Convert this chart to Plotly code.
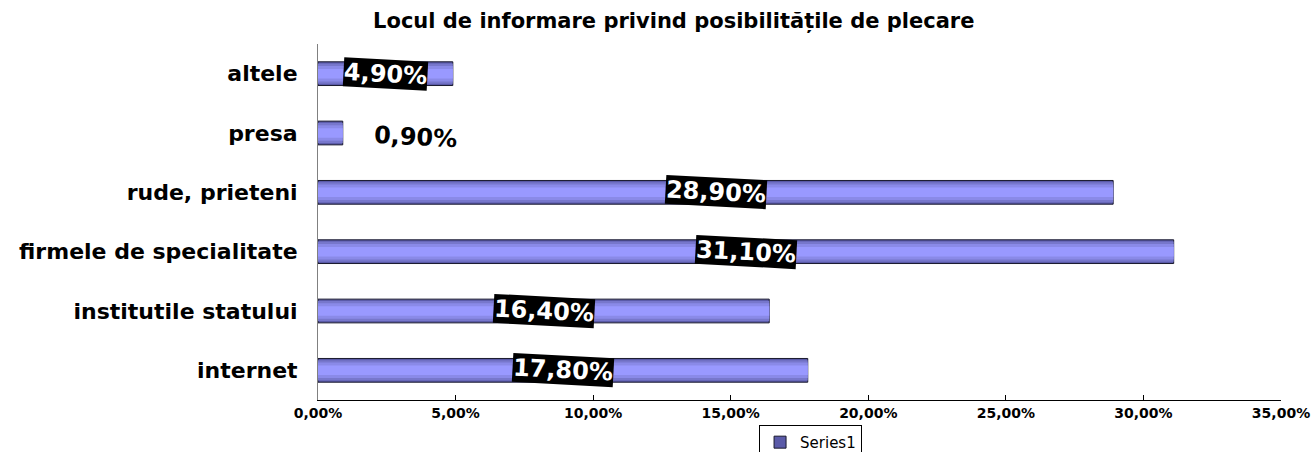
import plotly.graph_objects as go

title = "Locul de informare privind posibilitățile de plecare"
categories = ["internet", "institutile statului", "firmele de specialitate",
              "rude, prieteni", "presa", "altele"]
values = [17.8, 16.4, 31.1, 28.9, 0.9, 4.9]
labels = ["17,80%", "16,40%", "31,10%", "28,90%", "0,90%", "4,90%"]
series_name = "Series1"
x_ticks = [0, 5, 10, 15, 20, 25, 30, 35]
x_tick_labels = ["0,00%", "5,00%", "10,00%", "15,00%", "20,00%", "25,00%", "30,00%", "35,00%"]

FONT = "DejaVu Sans"

fig = go.Figure()
# gradient-like layered bars
layers = [(0.40, "#5a5aa8", True), (0.34, "#7777cc", False),
          (0.26, "#8a8ae8", False), (0.16, "#9999ff", False)]
for w, col, base in layers:
    fig.add_trace(go.Bar(
        y=categories, x=values, orientation="h", width=w,
        marker=dict(color=col, line=dict(color="#1a1a2e" if base else col, width=1 if base else 0)),
        name=series_name, showlegend=base, hoverinfo="skip" if not base else None,
    ))

annotations = []
for cat, v, lab in zip(categories, values, labels):
    if v < 2:
        annotations.append(dict(x=v, y=cat, xref="x", yref="y", text=lab, showarrow=False,
                                xshift=73, yshift=-4, textangle=3,
                                font=dict(family=FONT, size=24, color="black", weight="bold")))
    else:
        annotations.append(dict(x=v / 2, y=cat, xref="x", yref="y", text=lab, showarrow=False,
                                textangle=3, bgcolor="black", borderpad=0,
                                font=dict(family=FONT, size=24, color="white", weight="bold")))

fig.update_layout(
    width=1316, height=452,
    margin=dict(l=318, r=35, t=44, b=52, autoexpand=False),
    paper_bgcolor="white", plot_bgcolor="white",
    barmode="overlay",
    title=dict(text=title, x=0.512, xanchor="center", y=0.954, yanchor="middle",
               font=dict(family=FONT, size=21, color="black", weight="bold")),
    xaxis=dict(range=[0, 35], tickvals=x_ticks, ticktext=x_tick_labels, automargin=False,
               showgrid=False, zeroline=False, showline=True, linecolor="black", linewidth=1,
               ticks="inside", ticklen=5, tickcolor="black",
               tickfont=dict(family=FONT, size=14, color="black", weight="bold")),
    yaxis=dict(categoryorder="array", categoryarray=categories, range=[-0.5, 5.5],
               automargin=False,
               showgrid=False, zeroline=False, showline=True, linecolor="#808080", linewidth=1,
               ticks="", ticklabelstandoff=15,
               tickfont=dict(family=FONT, size=22, color="black", weight="bold")),
    legend=dict(x=0.458, y=-0.07, xanchor="left", yanchor="top",
                bordercolor="black", borderwidth=1, orientation="h",
                font=dict(family=FONT, size=15, color="black"),
                itemwidth=30, tracegroupgap=0),
    annotations=annotations,
    showlegend=True,
)

fig.write_html("out.html", config={"displayModeBar": False},
               post_script="document.body.style.margin='0';")
